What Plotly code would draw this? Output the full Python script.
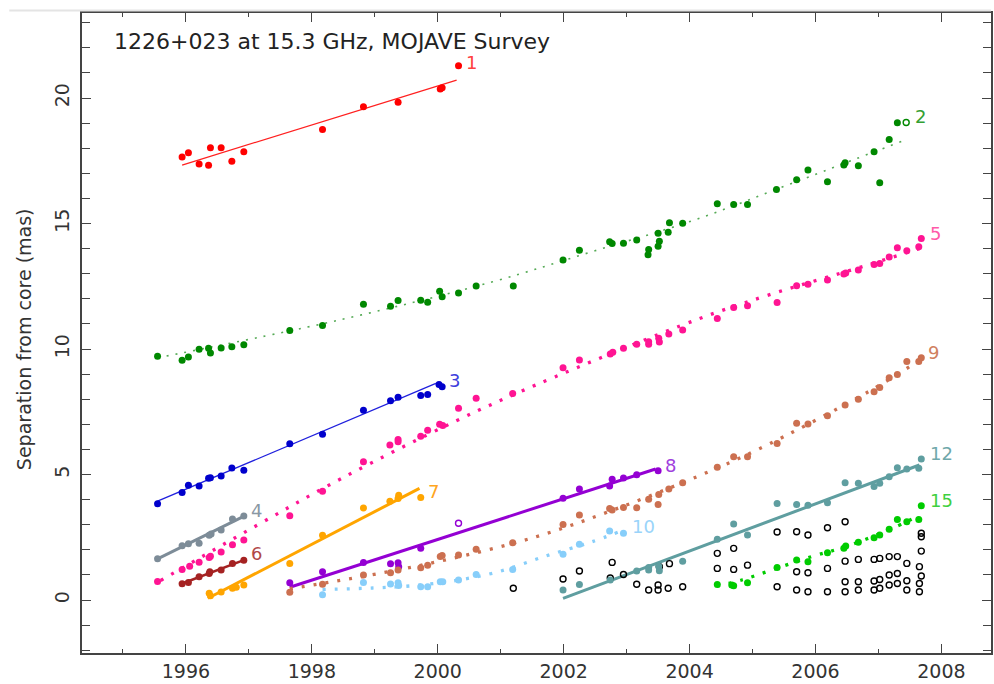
import plotly.graph_objects as go

# ---- component data: epoch (yr) and separation from core (mas) ----
c1_t = [1995.94, 1996.04, 1996.21, 1996.36, 1996.39, 1996.56, 1996.73, 1996.92, 1998.17, 1998.82, 1999.37, 2000.04, 2000.07, 2000.33]
c1_r = [17.65, 17.82, 17.37, 17.32, 18.02, 18.02, 17.48, 17.86, 18.75, 19.65, 19.83, 20.36, 20.41, 21.29]

c2_t = [1995.55, 1995.94, 1996.04, 1996.21, 1996.36, 1996.39, 1996.56, 1996.73, 1996.92,
        1997.65, 1998.17, 1998.82, 1999.25, 1999.37, 1999.73, 1999.84, 2000.03, 2000.07, 2000.33, 2000.61,
        2001.20, 2001.99, 2002.25, 2002.73, 2002.77, 2002.95, 2003.16, 2003.34, 2003.35, 2003.50,
        2003.52, 2003.50, 2003.66, 2003.68, 2003.89, 2004.44, 2004.70, 2004.92, 2005.38, 2005.70,
        2005.88, 2006.19, 2006.45, 2006.47, 2006.68, 2006.93, 2007.02, 2007.17, 2007.30]
c2_r = [9.71, 9.55, 9.68, 9.99, 10.03, 9.84, 10.04, 10.09, 10.17,
        10.74, 10.94, 11.79, 11.71, 11.93, 11.94, 11.87, 12.30, 12.08, 12.23, 12.51,
        12.51, 13.55, 13.94, 14.28, 14.21, 14.22, 14.35, 13.76, 13.97, 14.10,
        14.30, 14.61, 14.65, 15.03, 15.01, 15.79, 15.76, 15.76, 16.36, 16.75,
        17.13, 16.67, 17.33, 17.42, 17.30, 17.86, 16.63, 18.35, 19.02]
c2_open_t = [2007.44]
c2_open_r = [19.03]

c3_t = [1995.55, 1995.94, 1996.04, 1996.21, 1996.36, 1996.39, 1996.56, 1996.73, 1996.92,
        1997.65, 1998.17, 1998.82, 1999.25, 1999.37, 1999.73, 1999.84, 2000.02, 2000.07]
c3_r = [3.84, 4.28, 4.57, 4.54, 4.85, 4.87, 4.94, 5.26, 5.17,
        6.23, 6.61, 7.56, 7.94, 8.08, 8.15, 8.19, 8.59, 8.50]

c4_t = [1995.55, 1995.94, 1996.04, 1996.21, 1996.37, 1996.40, 1996.56, 1996.74, 1996.92]
c4_r = [1.65, 2.16, 2.24, 2.26, 2.58, 2.63, 2.79, 3.23, 3.35]

c5_t = [1995.55, 1995.94, 1996.06, 1996.21, 1996.37, 1996.39, 1996.56, 1996.74, 1996.92,
        1997.65, 1998.17, 1998.82, 1999.24, 1999.37, 1999.37, 1999.73, 1999.84, 2000.03, 2000.08,
        2000.33, 2000.61, 2001.19, 2001.99, 2002.25, 2002.74, 2002.78, 2002.95, 2003.16, 2003.35,
        2003.35, 2003.51, 2003.52, 2003.67, 2003.89, 2004.44, 2004.70, 2004.92, 2005.39, 2005.70,
        2005.88, 2006.19, 2006.45, 2006.48, 2006.68, 2006.93, 2007.02, 2007.17, 2007.30, 2007.45,
        2007.64, 2007.68]
c5_r = [0.74, 1.22, 1.35, 1.51, 1.70, 1.74, 1.91, 2.20, 2.39,
        3.36, 4.33, 5.51, 6.18, 6.31, 6.40, 6.53, 6.77, 7.00, 6.95,
        7.64, 8.04, 8.23, 9.26, 9.56, 9.80, 9.87, 10.03, 10.19, 10.29,
        10.19, 10.43, 10.28, 10.60, 10.76, 11.22, 11.66, 11.73, 11.86, 12.52,
        12.58, 12.75, 12.99, 13.03, 13.15, 13.37, 13.41, 13.67, 14.04, 13.92,
        14.08, 14.41]

c6_t = [1995.94, 1996.04, 1996.21, 1996.37, 1996.38, 1996.56, 1996.74, 1996.92]
c6_r = [0.65, 0.70, 0.93, 1.06, 1.13, 1.20, 1.46, 1.59]

c7_t = [1996.37, 1996.39, 1996.56, 1996.74, 1996.80, 1996.92, 1997.65, 1998.17, 1998.82, 1999.24, 1999.37, 1999.38, 1999.73]
c7_r = [0.27, 0.17, 0.32, 0.47, 0.51, 0.60, 1.46, 2.58, 3.67, 3.94, 4.05, 4.18, 4.09]

c8_t = [1997.65, 1998.17, 1998.82, 1999.25, 1999.37, 1999.38, 1999.73, 2001.99, 2002.25, 2002.73, 2002.77, 2002.95, 2003.16, 2003.50]
c8_r = [0.69, 1.13, 1.50, 1.45, 1.49, 1.33, 2.06, 4.06, 4.42, 4.54, 4.81, 4.86, 4.99, 5.15]
c8_open_t = [2000.33]
c8_open_r = [3.06]

c9_t = [1997.65, 1998.17, 1998.82, 1999.25, 1999.37, 1999.73, 1999.84, 2000.04, 2000.07, 2000.33,
        2000.61, 2001.19, 2001.99, 2002.25, 2002.73, 2002.77, 2002.95, 2003.16, 2003.35, 2003.51,
        2003.50, 2003.67, 2003.89, 2004.44, 2004.70, 2004.92, 2005.39, 2005.70, 2005.88, 2006.19,
        2006.47, 2006.68, 2006.93, 2007.02, 2007.17, 2007.30, 2007.45, 2007.64, 2007.68]
c9_r = [0.31, 0.63, 1.00, 1.09, 1.20, 1.29, 1.39, 1.73, 1.77, 1.79,
        2.02, 2.28, 3.01, 3.39, 3.65, 3.59, 3.69, 3.68, 4.02, 4.21,
        3.81, 4.42, 4.67, 5.29, 5.71, 5.71, 6.24, 7.04, 7.01, 7.34,
        7.77, 8.00, 8.30, 8.47, 8.86, 8.99, 9.50, 9.50, 9.65]

c10_t = [1998.17, 1998.82, 1999.25, 1999.37, 1999.38, 1999.73, 1999.84, 2000.04, 2000.08, 2000.33,
         2000.61, 2001.19, 2001.99, 2002.25, 2002.73, 2002.95]
c10_r = [0.21, 0.70, 0.64, 0.69, 0.58, 0.53, 0.53, 0.73, 0.73, 0.80,
         1.02, 1.22, 1.82, 2.22, 2.75, 2.66]

c12_t = [2001.99, 2002.25, 2002.74, 2003.16, 2003.35, 2003.35, 2003.52, 2003.51, 2003.89, 2004.44,
         2004.70, 2004.92, 2005.39, 2005.70, 2005.88, 2006.19, 2006.47, 2006.68, 2006.93, 2007.02,
         2007.17, 2007.30, 2007.45, 2007.64, 2007.68]
c12_r = [0.40, 0.62, 0.80, 1.16, 1.20, 1.30, 1.17, 1.35, 1.55, 2.42,
         3.03, 2.59, 3.85, 3.81, 3.78, 3.88, 4.67, 4.65, 4.52, 4.65,
         4.91, 5.27, 5.22, 5.25, 5.62]

c15_t = [2004.44, 2004.67, 2004.70, 2004.92, 2005.39, 2005.70, 2005.88, 2006.19, 2006.45, 2006.48,
         2006.68, 2006.93, 2007.02, 2007.17, 2007.30, 2007.45, 2007.64, 2007.68]
c15_r = [0.62, 0.60, 0.57, 0.69, 1.30, 1.60, 1.53, 1.88, 2.06, 2.15,
         2.30, 2.48, 2.59, 2.82, 3.21, 3.12, 3.21, 3.76]

# unidentified components (open circles)
other_t = [2001.20, 2001.99, 2002.25, 2002.74, 2002.77, 2002.95, 2003.16, 2003.35, 2003.50, 2003.50,
           2003.52, 2003.66, 2003.68, 2003.89, 2004.44, 2004.44, 2004.70, 2004.70, 2004.92, 2005.39,
           2005.39, 2005.70, 2005.70, 2005.70, 2005.88, 2005.88, 2005.88, 2006.19, 2006.19, 2006.19,
           2006.47, 2006.47, 2006.47, 2006.47, 2006.68, 2006.68, 2006.68, 2006.93, 2006.93, 2006.93,
           2007.02, 2007.02, 2007.02, 2007.17, 2007.17, 2007.17, 2007.30, 2007.30, 2007.30,
           2007.45, 2007.45, 2007.45, 2007.65, 2007.65, 2007.65, 2007.68, 2007.68, 2007.68, 2007.68]
other_r = [0.47, 0.84, 1.16, 0.88, 1.50, 1.02, 0.63, 0.40, 0.60, 0.40,
           1.33, 0.47, 1.45, 0.53, 1.86, 1.26, 2.06, 1.22, 1.39, 2.71,
           0.53, 2.72, 1.13, 0.40, 2.59, 1.09, 0.33, 2.88, 1.26, 0.33,
           3.12, 1.55, 0.73, 0.33, 1.62, 0.73, 0.40, 1.62, 0.76, 0.40,
           1.66, 0.82, 0.47, 1.73, 1.00, 0.60, 1.73, 1.06, 0.66,
           1.46, 0.77, 0.40, 1.33, 0.66, 0.33, 2.66, 2.52, 1.95, 0.96]

# ---- kinematic fits ----
# linear fits: end points
fit1_t, fit1_r = [1995.94, 2000.30], [17.33, 20.72]
fit3_t, fit3_r = [1995.55, 1999.97], [3.94, 8.63]
fit4_t, fit4_r = [1995.55, 1996.95], [1.64, 3.37]
fit6_t, fit6_r = [1995.90, 1996.95], [0.62, 1.62]
fit7_t, fit7_r = [1996.35, 1999.71], [0.07, 4.45]
fit8_t, fit8_r = [1997.65, 2003.46], [0.51, 5.22]
fit12_t, fit12_r = [2001.99, 2007.65], [0.07, 5.38]
# accelerated fits: knots along the curve
fit2_t = [1995.55, 1998.44, 2000.87, 2002.45, 2004.04, 2005.62, 2007.38]
fit2_r = [9.65, 11.16, 12.68, 13.88, 15.11, 16.60, 18.29]
fit5_t = [1995.60, 1997.11, 1998.49, 2000.26, 2001.56, 2004.12, 2005.25, 2006.79, 2007.65]
fit5_r = [0.78, 2.95, 4.87, 7.10, 8.57, 11.18, 12.15, 13.32, 14.00]
fit9_t = [1997.65, 1999.07, 2000.23, 2001.56, 2002.80, 2004.14, 2005.07, 2006.84, 2007.65]
fit9_r = [0.45, 1.06, 1.66, 2.52, 3.60, 4.94, 5.98, 8.30, 9.55]
fit10_t = [1998.17, 1998.97, 1999.60, 2000.29, 2000.95, 2001.71, 2002.45, 2002.88]
fit10_r = [0.42, 0.48, 0.57, 0.78, 1.12, 1.75, 2.32, 2.72]
fit15_t = [2004.43, 2004.83, 2005.31, 2005.94, 2006.47, 2007.16, 2007.63]
fit15_r = [0.55, 0.80, 1.20, 1.73, 2.12, 2.79, 3.35]

FONT = "DejaVu Sans"
fig = go.Figure()


def fit_line(t, r, color, width, dash="solid", spline=False):
    fig.add_trace(go.Scatter(
        x=t, y=r, mode="lines", hoverinfo="skip",
        line=dict(color=color, width=width, dash=dash,
                  shape="spline" if spline else "linear")))


def points(t, r, color, open_=False, size=7):
    if open_:
        marker = dict(symbol="circle-open", size=size - 1, color=color, line=dict(width=1.4, color=color))
    else:
        marker = dict(symbol="circle", size=size, color=color, line=dict(width=0))
    fig.add_trace(go.Scatter(x=t, y=r, mode="markers", marker=marker))


# fits
fit_line(fit1_t, fit1_r, "#ff2020", 1.3)
fit_line(fit2_t, fit2_r, "#55aa55", 1.6, dash="2px,7px", spline=True)
fit_line(fit3_t, fit3_r, "#2020dd", 1.3)
fit_line(fit4_t, fit4_r, "#7d8c98", 3)
fit_line(fit5_t, fit5_r, "#ff1493", 3.3, dash="3px,9px", spline=True)
fit_line(fit6_t, fit6_r, "#a52222", 2.6)
fit_line(fit7_t, fit7_r, "#ffa500", 3)
fit_line(fit8_t, fit8_r, "#9400d3", 3)
fit_line(fit9_t, fit9_r, "#cc7050", 3.3, dash="3px,9px", spline=True)
fit_line(fit10_t, fit10_r, "#87cefa", 3.3, dash="3px,9px", spline=True)
fit_line(fit12_t, fit12_r, "#5f9ea0", 3)
fit_line(fit15_t, fit15_r, "#00cc00", 3.3, dash="3px,9px", spline=True)

# measured positions
points(other_t, other_r, "black", open_=True)
points(c1_t, c1_r, "#ff0000")
points(c2_t, c2_r, "#008800")
points(c2_open_t, c2_open_r, "#008800", open_=True)
points(c3_t, c3_r, "#0000cc")
points(c4_t, c4_r, "#7d8c98")
points(c5_t, c5_r, "#ff1493")
points(c6_t, c6_r, "#a52222")
points(c7_t, c7_r, "#ffa500")
points(c8_t, c8_r, "#9400d3")
points(c8_open_t, c8_open_r, "#9400d3", open_=True)
points(c9_t, c9_r, "#cc7050")
points(c10_t, c10_r, "#87cefa")
points(c12_t, c12_r, "#5f9ea0")
points(c15_t, c15_r, "#00cc00")

# component labels
labels = [
    ("1", 2000.54, 21.43, "#ff4040"),
    ("2", 2007.66, 19.26, "#33a033"),
    ("3", 2000.26, 8.76, "#4040dd"),
    ("4", 1997.12, 3.56, "#8a98a4"),
    ("5", 2007.90, 14.61, "#ff5aa8"),
    ("6", 1997.12, 1.86, "#b04848"),
    ("7", 1999.94, 4.31, "#ffa520"),
    ("8", 2003.70, 5.38, "#a040dd"),
    ("9", 2007.88, 9.87, "#d08060"),
    ("10", 2003.27, 2.92, "#9ad4fa"),
    ("12", 2008.00, 5.84, "#6fa8aa"),
    ("15", 2008.00, 3.98, "#40d040"),
]
for text, x, y, col in labels:
    fig.add_annotation(x=x, y=y, text=text, showarrow=False, xanchor="center", yanchor="middle",
                       font=dict(family=FONT, size=18, color=col))

fig.add_annotation(xref="paper", yref="paper", x=0.033, y=0.955, xanchor="left", yanchor="middle",
                   text="1226+023 at 15.3 GHz, MOJAVE Survey", showarrow=False,
                   font=dict(family=FONT, size=22, color="#222222"))
fig.add_annotation(xref="paper", yref="paper", x=-0.063, y=0.49, xanchor="center", yanchor="middle",
                   text="Separation from core (mas)", textangle=-90, showarrow=False,
                   font=dict(family=FONT, size=19, color="#333333"))

# faint frame line just above the plot box
fig.add_shape(type="line", xref="paper", yref="paper", x0=-0.08, x1=1.0, y0=1.004, y1=1.004,
              line=dict(color="#e4e4e4", width=2))

axis_common = dict(showline=True, linecolor="#444444", linewidth=1.5, mirror="allticks",
                   showgrid=False, zeroline=False, ticks="inside", tickcolor="#444444",
                   tickwidth=1.3, tickfont=dict(family=FONT, size=19, color="#333333"))

fig.update_layout(
    width=994, height=684,
    margin=dict(l=82, r=1, t=13, b=31),
    plot_bgcolor="white", paper_bgcolor="white",
    showlegend=False,
    xaxis=dict(range=[1994.35, 2008.787], tick0=1996, dtick=2, ticklen=9,
               minor=dict(tick0=1995, dtick=1, ticks="inside", ticklen=4, tickcolor="#444444", tickwidth=1.2),
               **axis_common),
    yaxis=dict(range=[-2.11, 23.39], tick0=0, dtick=5, ticklen=9, tickangle=-90, ticklabelstandoff=4,
               minor=dict(tick0=0, dtick=1, ticks="inside", ticklen=8, tickcolor="#444444", tickwidth=1.2),
               **axis_common),
)

fig.write_html("out.html")
